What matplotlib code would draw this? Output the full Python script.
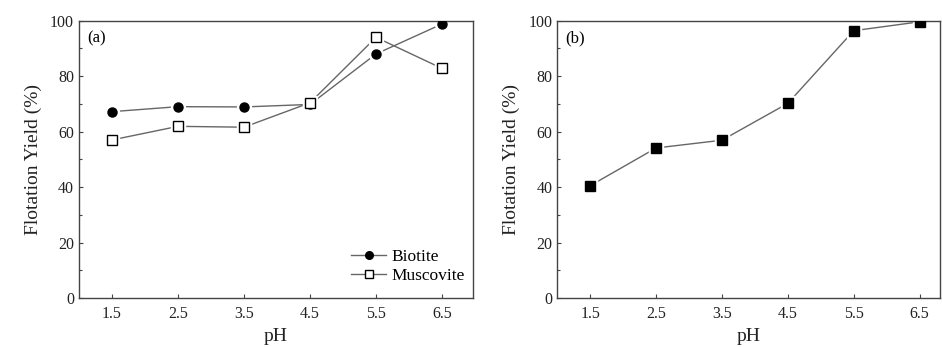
"""
Flotation yield versus pH: (a) biotite and muscovite, (b) second series.
"""

import matplotlib.pyplot as plt

plt.rcParams["font.family"] = ["Liberation Serif", "DejaVu Serif"]

# Data
PH = [1.5, 2.5, 3.5, 4.5, 5.5, 6.5]
BIOTITE = [67.2, 69.0, 68.9, 69.8, 88.0, 98.8]
MUSCOVITE = [57.0, 61.9, 61.6, 70.4, 94.0, 82.8]
YIELD_B = [40.5, 54.1, 56.9, 70.2, 96.4, 99.6]

SPINE_COLOR = "#444444"
LINE_COLOR = "#666666"
MS = 6.5


def style_axes(ax, xmax):
    ax.set_xlim(1.0, xmax)
    ax.set_ylim(0, 100)
    ax.set_xticks(PH)
    ax.set_xticklabels([f"{v:.1f}" for v in PH])
    ax.set_yticks(range(0, 101, 20))
    ax.set_yticks(range(10, 100, 20), minor=True)
    ax.tick_params(direction="in", length=3, width=0.8, colors=SPINE_COLOR,
                   labelcolor="#222222", labelsize=11.5)
    ax.tick_params(which="minor", direction="in", length=2, width=0.8, colors=SPINE_COLOR)
    ax.tick_params(axis="x", pad=6)
    for s in ax.spines.values():
        s.set_color(SPINE_COLOR)
        s.set_linewidth(1.0)
    ax.set_xlabel("pH", fontsize=14, color="#222222", labelpad=4)
    ax.set_ylabel("Flotation Yield (%)", fontsize=14, color="#222222", labelpad=6)


def plot_series(ax, x, y, marker, face, label=None):
    # line first, then a white halo so the line stops short of the marker
    ax.plot(x, y, "-", color=LINE_COLOR, lw=1.0, zorder=1)
    ax.plot(x, y, marker, ls="none", ms=MS + 3.5, mfc="white", mec="white", zorder=2)
    ax.plot(x, y, marker, ls="none", ms=MS, mfc=face, mec="black", mew=1.0, zorder=3)
    if label:
        ax.plot([], [], "-", color=LINE_COLOR, lw=1.0, marker=marker, ms=MS - 1,
                mfc=face, mec="black", label=label)


fig = plt.figure(figsize=(9.43, 3.47), dpi=100)
ax1 = fig.add_axes([79 / 943, 1 - 298 / 347, 394 / 943, 277.3 / 347])
ax2 = fig.add_axes([557.3 / 943, 1 - 298 / 347, 382.7 / 943, 277.3 / 347])

# (a)
plot_series(ax1, PH, BIOTITE, "o", "black", "Biotite")
plot_series(ax1, PH, MUSCOVITE, "s", "white", "Muscovite")
style_axes(ax1, 6.97)
ax1.text(0.02, 0.935, "(a)", transform=ax1.transAxes, fontsize=12, va="center")
ax1.legend(loc="lower right", frameon=False, fontsize=12.5, handlelength=2.0,
           handletextpad=0.3, labelspacing=0.2, borderaxespad=0.2,
           bbox_to_anchor=(1.005, 0.012))

# (b)
plot_series(ax2, PH, YIELD_B, "s", "black")
style_axes(ax2, 6.81)
ax2.text(0.02, 0.935, "(b)", transform=ax2.transAxes, fontsize=12, va="center")

fig.savefig("out.png", dpi=100)
